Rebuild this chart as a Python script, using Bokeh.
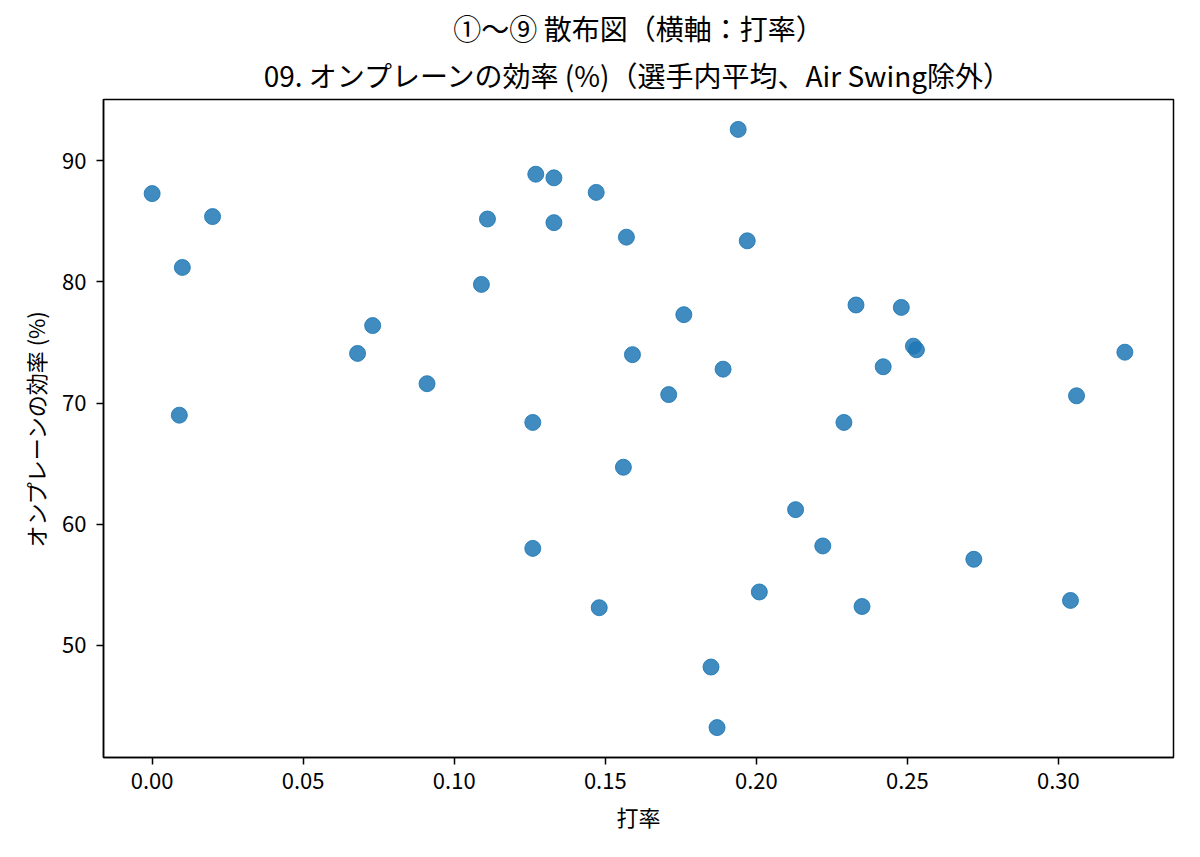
from bokeh.plotting import figure
from bokeh.models import Range1d, FixedTicker, NumeralTickFormatter, Title
from bokeh.embed import file_html
from bokeh.resources import INLINE

# 打率 (batting average) and オンプレーンの効率 (%) per player
batting_avg = [0.000, 0.010, 0.009, 0.020, 0.068, 0.073, 0.091, 0.109, 0.111, 0.126,
               0.126, 0.127, 0.133, 0.133, 0.147, 0.148, 0.156, 0.157, 0.159, 0.171,
               0.176, 0.185, 0.187, 0.189, 0.194, 0.197, 0.201, 0.213, 0.222, 0.229,
               0.233, 0.235, 0.242, 0.248, 0.252, 0.253, 0.272, 0.304, 0.306, 0.322]
onplane_eff = [87.3, 81.2, 69.0, 85.4, 74.1, 76.4, 71.6, 79.8, 85.2, 68.4,
               58.0, 88.9, 88.6, 84.9, 87.4, 53.1, 64.7, 83.7, 74.0, 70.7,
               77.3, 48.2, 43.2, 72.8, 92.6, 83.4, 54.4, 61.2, 58.2, 68.4,
               78.1, 53.2, 73.0, 77.9, 74.7, 74.4, 57.1, 53.7, 70.6, 74.2]

x_ticks = [0.00, 0.05, 0.10, 0.15, 0.20, 0.25, 0.30]
y_ticks = [50, 60, 70, 80, 90]

title_main = "①〜⑨ 散布図（横軸：打率）"
title_sub = "09. オンプレーンの効率 (%)（選手内平均、Air Swing除外）"
x_label = "打率"
y_label = "オンプレーンの効率 (%)"

FONT = "Noto Sans CJK JP"

def padded(vals, frac=0.05):
    lo, hi = min(vals), max(vals)
    m = (hi - lo) * frac
    return lo - m, hi + m

xr = padded(batting_avg)
yr = padded(onplane_eff)

p = figure(width=1184, height=841, output_backend="svg", toolbar_location=None,
           x_range=Range1d(*xr), y_range=Range1d(*yr),
           min_border_left=103, min_border_right=11, min_border_top=99, min_border_bottom=84)

p.add_layout(Title(text=title_sub, align="center", text_font=FONT, text_font_size="28px",
                   text_line_height=0.9, text_font_style="normal", text_color="black",
                   offset=0, standoff=10), "above")
p.add_layout(Title(text=title_main, align="center", text_font=FONT, text_font_size="28px",
                   text_line_height=0.9, text_font_style="normal", text_color="black",
                   offset=0, standoff=0), "above")

p.scatter(batting_avg, onplane_eff, size=16, fill_color="#1f77b4", fill_alpha=0.85,
          line_color="#1f77b4", line_alpha=0.85, line_width=1)

p.xgrid.visible = False
p.ygrid.visible = False
p.outline_line_color = "black"
p.outline_line_width = 1.5
p.background_fill_color = "white"
p.border_fill_color = "white"

p.xaxis.ticker = FixedTicker(ticks=x_ticks)
p.yaxis.ticker = FixedTicker(ticks=y_ticks)
p.xaxis.formatter = NumeralTickFormatter(format="0.00")
p.yaxis.formatter = NumeralTickFormatter(format="0")

for ax in (p.xaxis, p.yaxis):
    ax.axis_line_color = "black"
    ax.axis_line_width = 1.5
    ax.major_tick_line_color = "black"
    ax.major_tick_line_width = 1.5
    ax.major_tick_out = 7
    ax.major_tick_in = 0
    ax.minor_tick_line_color = None
    ax.major_label_text_font = FONT
    ax.major_label_text_font_size = "22px"
    ax.major_label_text_color = "black"
    ax.axis_label_text_font = FONT
    ax.axis_label_text_font_size = "22px"
    ax.axis_label_text_font_style = "normal"
    ax.axis_label_text_color = "black"

p.xaxis.axis_label = x_label
p.yaxis.axis_label = y_label
p.xaxis.major_label_standoff = 8
p.yaxis.major_label_standoff = 10
p.xaxis.axis_label_standoff = 8
p.yaxis.axis_label_standoff = 8

open("out.html", "w").write(file_html(p, INLINE))
